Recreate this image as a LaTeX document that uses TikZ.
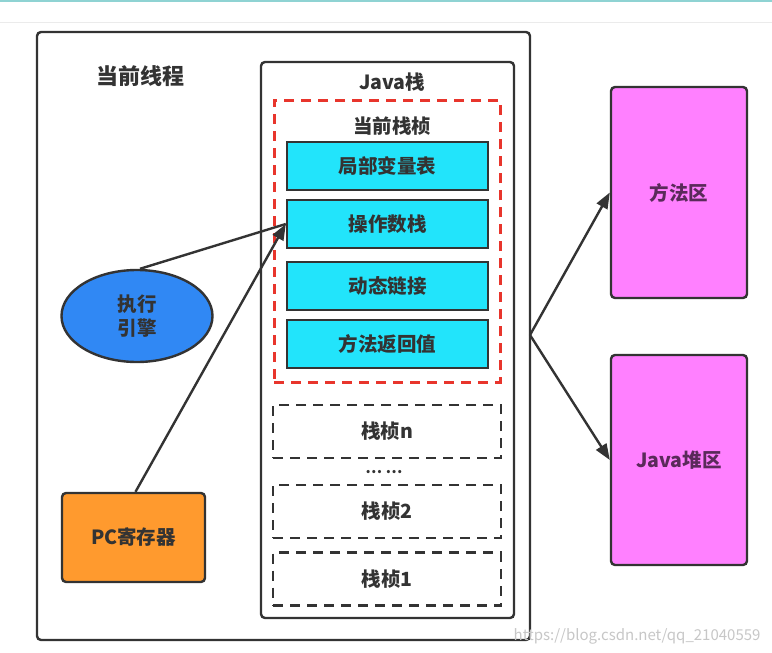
\documentclass[tikz,border=0pt]{standalone}
\usepackage{fontspec}
\setmainfont{Noto Sans CJK SC}
\usetikzlibrary{arrows.meta,shapes.geometric}
\definecolor{edge}{HTML}{333333}
\definecolor{txt}{HTML}{333333}
\definecolor{cyanf}{HTML}{22E4FB}
\definecolor{bluef}{HTML}{3088F4}
\definecolor{orangef}{HTML}{FF9A2E}
\definecolor{pinkf}{HTML}{FF80FF}
\definecolor{pinktxt}{HTML}{5A2A5A}
\definecolor{redd}{HTML}{E8352C}
\definecolor{teal}{HTML}{8FD3D3}
\tikzset{
  frame/.style={draw=edge, line width=2.4pt, rounded corners=4pt, fill=white},
  lbl/.style={font=\bfseries\fontsize{19.5}{23}\selectfont, text=txt},
  cyanbox/.style={draw=edge, line width=2.4pt, fill=cyanf, minimum width=201pt, minimum height=48pt, lbl},
  framebox/.style={draw=edge, line width=2.6pt, dash pattern=on 10pt off 7pt, minimum width=228pt, minimum height=53pt, lbl},
  pinkbox/.style={draw=edge, line width=2.4pt, rounded corners=4pt, fill=pinkf, minimum width=136pt, minimum height=211pt, lbl, text=pinktxt},
  conn/.style={draw=edge, line width=2.4pt},
  arr/.style={conn, -{Triangle[length=16pt,width=12pt]}},
}
\begin{document}
\begin{tikzpicture}[x=1pt,y=-1pt]
\useasboundingbox (0,0) rectangle (772,653);
\fill[white] (0,0) rectangle (772,653);
\draw[teal, line width=2pt] (0,1) -- (772,1);
\draw[black!8, line width=1pt] (0,22.5) -- (772,22.5);
% frames
\node[frame, minimum width=493pt, minimum height=608pt] (thread) at (283.5,336) {};
\node[lbl, font=\bfseries\fontsize{22}{26}\selectfont] (threadlbl) at (140,76) {当前线程};
\node[frame, minimum width=253pt, minimum height=556pt] (stack) at (387.5,340) {};
\node[lbl] (stacklbl) at (392,82) {Java栈};
\node[draw=redd, line width=3pt, dash pattern=on 10pt off 7pt, minimum width=226pt, minimum height=282pt] (cur) at (387,241) {};
\node[lbl] (curlbl) at (392,126) {当前栈桢};
\node[cyanbox] (locals) at (387.5,166) {局部变量表};
\node[cyanbox] (operand) at (387.5,224) {操作数栈};
\node[cyanbox] (dynlink) at (387.5,286) {动态链接};
\node[cyanbox] (ret) at (387.5,344) {方法返回值};
\node[framebox] (fn) at (387,431.5) {栈桢n};
\node[lbl, font=\bfseries\fontsize{15}{18}\selectfont] (dots) at (384,472) {… …};
\node[framebox] (f2) at (387,511.5) {栈桢2};
\node[framebox] (f1) at (387,579) {栈桢1};
% left
\node[ellipse, draw=edge, line width=2.4pt, fill=bluef, minimum width=151pt, minimum height=92pt, align=center, lbl, font=\bfseries\fontsize{19.5}{24}\selectfont] (engine) at (137,316) {执行\\引擎};
\node[draw=edge, line width=2.4pt, rounded corners=4pt, fill=orangef, minimum width=143pt, minimum height=89pt, lbl] (pc) at (133.5,537.5) {PC寄存器};
% right
\node[pinkbox] (method) at (679,192.5) {方法区};
\node[pinkbox, minimum height=210pt] (heap) at (679,460) {Java堆区};
% connectors
\coordinate (src) at (530,335);
\draw[conn] (engine.north) ++(3,0) coordinate (es) -- (operand.west);
\draw[arr] (pc.north) ++(2,0) coordinate (ps) -- (operand.west);
\draw[arr] (src) -- (method.west);
\draw[arr] (src) -- (heap.west);
% watermark
\node[text=black!22, font=\fontsize{15}{18}\selectfont, anchor=east] (wm) at (764,636) {https://blog.csdn.net/qq\_21040559};
\end{tikzpicture}
\end{document}
